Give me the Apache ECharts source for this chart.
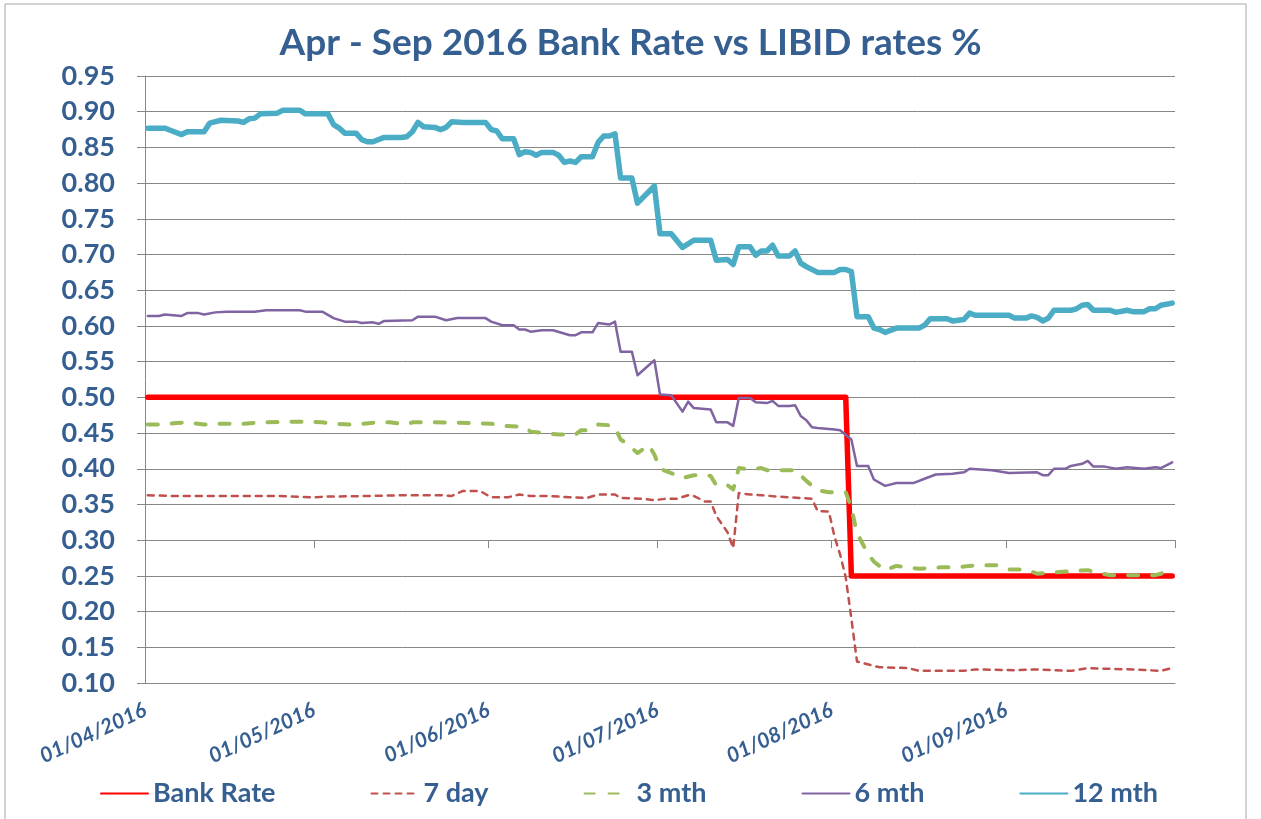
<!DOCTYPE html>
<html>
<head>
<meta charset="utf-8">
<title>Apr - Sep 2016 Bank Rate vs LIBID rates %</title>
<script src="https://cdn.jsdelivr.net/npm/echarts@6/dist/echarts.min.js"></script>
<style>
  html, body { margin: 0; padding: 0; background: #fff; }
  #viewA { width: 1261px; height: 819px; }
</style>
</head>
<body>
<div id="viewA"></div>
<script>
// axis range (daily data, points sit in the middle of each day)
const startDate = "2016-04-01";
const endDate = "2016-10-01";
const yTicks = [0.10, 0.95, 0.05]; // min, max, step

const seriesNames = ["Bank Rate", "7 day", "3 mth", "6 mth", "12 mth"];

const bankRate = [
  ["2016-04-01", 0.50], ["2016-08-03", 0.50], ["2016-08-04", 0.25], ["2016-09-30", 0.25]
];

const sevenDay = [
  ["2016-04-01", 0.363], ["2016-04-05", 0.362], ["2016-04-17", 0.362], ["2016-04-24", 0.362],
  ["2016-04-30", 0.360], ["2016-05-03", 0.361], ["2016-05-11", 0.362], ["2016-05-17", 0.363],
  ["2016-05-23", 0.363], ["2016-05-25", 0.362], ["2016-05-27", 0.369], ["2016-05-30", 0.369],
  ["2016-06-01", 0.360], ["2016-06-04", 0.360], ["2016-06-06", 0.364], ["2016-06-08", 0.362],
  ["2016-06-11", 0.362], ["2016-06-15", 0.360], ["2016-06-18", 0.359], ["2016-06-20", 0.364],
  ["2016-06-23", 0.364], ["2016-06-24", 0.359], ["2016-06-28", 0.358], ["2016-06-30", 0.356],
  ["2016-07-02", 0.358], ["2016-07-04", 0.358], ["2016-07-06", 0.363], ["2016-07-07", 0.362],
  ["2016-07-09", 0.354], ["2016-07-10", 0.354], ["2016-07-11", 0.334], ["2016-07-13", 0.311],
  ["2016-07-14", 0.289], ["2016-07-15", 0.366], ["2016-07-17", 0.364], ["2016-07-19", 0.363],
  ["2016-07-22", 0.361], ["2016-07-28", 0.358], ["2016-07-29", 0.341], ["2016-07-31", 0.340],
  ["2016-08-01", 0.305], ["2016-08-02", 0.280], ["2016-08-03", 0.248], ["2016-08-04", 0.190],
  ["2016-08-05", 0.130], ["2016-08-06", 0.128], ["2016-08-09", 0.122], ["2016-08-14", 0.121],
  ["2016-08-16", 0.117], ["2016-08-24", 0.117], ["2016-08-26", 0.119], ["2016-09-02", 0.118],
  ["2016-09-06", 0.119], ["2016-09-12", 0.117], ["2016-09-15", 0.121], ["2016-09-18", 0.120],
  ["2016-09-23", 0.119], ["2016-09-28", 0.117], ["2016-09-30", 0.121]
];

const threeMonth = [
  ["2016-04-01", 0.462], ["2016-04-03", 0.462], ["2016-04-06", 0.464], ["2016-04-08", 0.465],
  ["2016-04-11", 0.462], ["2016-04-13", 0.463], ["2016-04-18", 0.463], ["2016-04-21", 0.465],
  ["2016-04-27", 0.466], ["2016-04-29", 0.466], ["2016-05-02", 0.465], ["2016-05-04", 0.463],
  ["2016-05-07", 0.462], ["2016-05-09", 0.463], ["2016-05-12", 0.465], ["2016-05-14", 0.465],
  ["2016-05-17", 0.462], ["2016-05-18", 0.465], ["2016-05-22", 0.465], ["2016-05-29", 0.464],
  ["2016-06-01", 0.463], ["2016-06-03", 0.460], ["2016-06-06", 0.459], ["2016-06-07", 0.458],
  ["2016-06-08", 0.452], ["2016-06-13", 0.448], ["2016-06-16", 0.448], ["2016-06-17", 0.454],
  ["2016-06-18", 0.454], ["2016-06-20", 0.462], ["2016-06-22", 0.461], ["2016-06-23", 0.458],
  ["2016-06-24", 0.441], ["2016-06-25", 0.436], ["2016-06-27", 0.422], ["2016-06-29", 0.433],
  ["2016-06-30", 0.420], ["2016-07-01", 0.400], ["2016-07-03", 0.394], ["2016-07-05", 0.387],
  ["2016-07-07", 0.391], ["2016-07-10", 0.390], ["2016-07-11", 0.377], ["2016-07-13", 0.377],
  ["2016-07-14", 0.371], ["2016-07-15", 0.401], ["2016-07-17", 0.399], ["2016-07-19", 0.401],
  ["2016-07-20", 0.398], ["2016-07-25", 0.398], ["2016-07-27", 0.383], ["2016-07-29", 0.370],
  ["2016-07-31", 0.367], ["2016-08-03", 0.367], ["2016-08-04", 0.345], ["2016-08-05", 0.310],
  ["2016-08-06", 0.295], ["2016-08-07", 0.280], ["2016-08-08", 0.270], ["2016-08-10", 0.258],
  ["2016-08-12", 0.264], ["2016-08-16", 0.260], ["2016-08-20", 0.262], ["2016-08-23", 0.262],
  ["2016-08-25", 0.264], ["2016-08-27", 0.265], ["2016-08-30", 0.265], ["2016-09-01", 0.259],
  ["2016-09-04", 0.259], ["2016-09-06", 0.253], ["2016-09-11", 0.256], ["2016-09-15", 0.258],
  ["2016-09-17", 0.254], ["2016-09-19", 0.251], ["2016-09-27", 0.251], ["2016-09-28", 0.253],
  ["2016-09-30", 0.259]
];

const sixMonth = [
  ["2016-04-01", 0.614], ["2016-04-03", 0.614], ["2016-04-04", 0.616], ["2016-04-07", 0.614],
  ["2016-04-08", 0.618], ["2016-04-10", 0.618], ["2016-04-11", 0.616], ["2016-04-13", 0.619],
  ["2016-04-15", 0.620], ["2016-04-20", 0.620], ["2016-04-22", 0.622], ["2016-04-28", 0.622],
  ["2016-04-29", 0.620], ["2016-05-02", 0.620], ["2016-05-04", 0.611], ["2016-05-06", 0.606],
  ["2016-05-08", 0.606], ["2016-05-09", 0.604], ["2016-05-11", 0.605], ["2016-05-12", 0.603],
  ["2016-05-13", 0.607], ["2016-05-18", 0.608], ["2016-05-19", 0.613], ["2016-05-22", 0.613],
  ["2016-05-24", 0.608], ["2016-05-26", 0.611], ["2016-05-31", 0.611], ["2016-06-01", 0.606],
  ["2016-06-03", 0.601], ["2016-06-05", 0.601], ["2016-06-06", 0.595], ["2016-06-07", 0.595],
  ["2016-06-08", 0.592], ["2016-06-10", 0.594], ["2016-06-12", 0.594], ["2016-06-15", 0.587],
  ["2016-06-16", 0.587], ["2016-06-17", 0.591], ["2016-06-19", 0.591], ["2016-06-20", 0.604],
  ["2016-06-22", 0.602], ["2016-06-23", 0.606], ["2016-06-24", 0.564], ["2016-06-26", 0.564],
  ["2016-06-27", 0.531], ["2016-06-30", 0.552], ["2016-07-01", 0.504], ["2016-07-03", 0.503],
  ["2016-07-05", 0.480], ["2016-07-06", 0.494], ["2016-07-07", 0.485], ["2016-07-10", 0.483],
  ["2016-07-11", 0.465], ["2016-07-13", 0.465], ["2016-07-14", 0.460], ["2016-07-15", 0.499],
  ["2016-07-17", 0.499], ["2016-07-18", 0.493], ["2016-07-20", 0.492], ["2016-07-21", 0.495],
  ["2016-07-22", 0.488], ["2016-07-24", 0.488], ["2016-07-25", 0.489], ["2016-07-26", 0.474],
  ["2016-07-27", 0.468], ["2016-07-28", 0.458], ["2016-07-29", 0.457], ["2016-08-01", 0.455],
  ["2016-08-02", 0.454], ["2016-08-04", 0.441], ["2016-08-05", 0.404], ["2016-08-07", 0.404],
  ["2016-08-08", 0.385], ["2016-08-10", 0.376], ["2016-08-12", 0.380], ["2016-08-15", 0.380],
  ["2016-08-17", 0.386], ["2016-08-19", 0.392], ["2016-08-22", 0.393], ["2016-08-24", 0.395],
  ["2016-08-25", 0.400], ["2016-08-29", 0.398], ["2016-09-01", 0.394], ["2016-09-06", 0.395],
  ["2016-09-07", 0.391], ["2016-09-08", 0.391], ["2016-09-09", 0.400], ["2016-09-11", 0.400],
  ["2016-09-12", 0.404], ["2016-09-14", 0.407], ["2016-09-15", 0.411], ["2016-09-16", 0.403],
  ["2016-09-18", 0.403], ["2016-09-20", 0.400], ["2016-09-22", 0.402], ["2016-09-25", 0.400],
  ["2016-09-27", 0.402], ["2016-09-28", 0.401], ["2016-09-30", 0.409]
];

const twelveMonth = [
  ["2016-04-01", 0.877], ["2016-04-04", 0.877], ["2016-04-05", 0.874], ["2016-04-07", 0.868],
  ["2016-04-08", 0.872], ["2016-04-11", 0.872], ["2016-04-12", 0.884], ["2016-04-14", 0.888],
  ["2016-04-17", 0.887], ["2016-04-18", 0.885], ["2016-04-19", 0.890], ["2016-04-20", 0.891],
  ["2016-04-21", 0.897], ["2016-04-24", 0.898], ["2016-04-25", 0.902], ["2016-04-28", 0.902],
  ["2016-04-29", 0.897], ["2016-05-03", 0.897], ["2016-05-04", 0.882], ["2016-05-05", 0.877],
  ["2016-05-06", 0.870], ["2016-05-08", 0.870], ["2016-05-09", 0.861], ["2016-05-10", 0.858],
  ["2016-05-11", 0.858], ["2016-05-13", 0.864], ["2016-05-16", 0.864], ["2016-05-17", 0.865],
  ["2016-05-18", 0.872], ["2016-05-19", 0.885], ["2016-05-20", 0.879], ["2016-05-22", 0.878],
  ["2016-05-23", 0.875], ["2016-05-24", 0.878], ["2016-05-25", 0.886], ["2016-05-27", 0.885],
  ["2016-05-31", 0.885], ["2016-06-01", 0.875], ["2016-06-02", 0.873], ["2016-06-03", 0.862],
  ["2016-06-05", 0.862], ["2016-06-06", 0.840], ["2016-06-07", 0.844], ["2016-06-08", 0.843],
  ["2016-06-09", 0.839], ["2016-06-10", 0.843], ["2016-06-12", 0.843], ["2016-06-13", 0.839],
  ["2016-06-14", 0.829], ["2016-06-15", 0.831], ["2016-06-16", 0.829], ["2016-06-17", 0.837],
  ["2016-06-19", 0.837], ["2016-06-20", 0.857], ["2016-06-21", 0.866], ["2016-06-22", 0.866],
  ["2016-06-23", 0.869], ["2016-06-24", 0.807], ["2016-06-26", 0.807], ["2016-06-27", 0.772],
  ["2016-06-30", 0.796], ["2016-07-01", 0.729], ["2016-07-03", 0.729], ["2016-07-05", 0.710],
  ["2016-07-07", 0.720], ["2016-07-10", 0.720], ["2016-07-11", 0.692], ["2016-07-13", 0.693],
  ["2016-07-14", 0.686], ["2016-07-15", 0.711], ["2016-07-17", 0.711], ["2016-07-18", 0.699],
  ["2016-07-19", 0.705], ["2016-07-20", 0.705], ["2016-07-21", 0.713], ["2016-07-22", 0.698],
  ["2016-07-24", 0.698], ["2016-07-25", 0.705], ["2016-07-26", 0.688], ["2016-07-27", 0.683],
  ["2016-07-29", 0.675], ["2016-08-01", 0.675], ["2016-08-02", 0.679], ["2016-08-03", 0.679],
  ["2016-08-04", 0.676], ["2016-08-05", 0.613], ["2016-08-07", 0.613], ["2016-08-08", 0.597],
  ["2016-08-09", 0.595], ["2016-08-10", 0.591], ["2016-08-12", 0.597], ["2016-08-16", 0.597],
  ["2016-08-17", 0.601], ["2016-08-18", 0.610], ["2016-08-21", 0.610], ["2016-08-22", 0.607],
  ["2016-08-24", 0.609], ["2016-08-25", 0.618], ["2016-08-26", 0.615], ["2016-09-01", 0.615],
  ["2016-09-02", 0.611], ["2016-09-04", 0.611], ["2016-09-05", 0.614], ["2016-09-06", 0.612],
  ["2016-09-07", 0.607], ["2016-09-08", 0.611], ["2016-09-09", 0.622], ["2016-09-12", 0.622],
  ["2016-09-13", 0.624], ["2016-09-14", 0.629], ["2016-09-15", 0.630], ["2016-09-16", 0.622],
  ["2016-09-19", 0.622], ["2016-09-20", 0.619], ["2016-09-22", 0.622], ["2016-09-23", 0.620],
  ["2016-09-25", 0.620], ["2016-09-26", 0.624], ["2016-09-27", 0.624], ["2016-09-28", 0.629],
  ["2016-09-30", 0.632]
];

const textBlue = "#365F91";
const gridGrey = "#878787";
const font = "Lato";

// each daily value is plotted at midday, like a date axis with points between ticks
function midday(points) {
  return points.map(p => [new Date(p[0] + "T12:00:00").getTime(), p[1]]);
}

function lineSeries(name, points, color, width, dash) {
  return {
    name: name,
    type: "line",
    data: midday(points),
    symbol: "none",
    smooth: false,
    lineStyle: { color: color, width: width, type: dash || "solid", cap: "round", join: "round" },
    itemStyle: { color: color },
    emphasis: { disabled: true }
  };
}

const grid = { left: 145, right: 86, top: 76, bottom: 136 };
const plotHeight = 819 - grid.top - grid.bottom;
// second (label-less) date axis whose ticks hang from the 0.30 line
const crossOffset = -plotHeight * (0.30 - yTicks[0]) / (yTicks[1] - yTicks[0]);

const DAY = 24 * 3600 * 1000;

function timeAxis(extra) {
  return Object.assign({
    type: "time",
    position: "bottom",
    min: new Date(startDate + "T00:00:00").getTime(),
    max: new Date(endDate + "T00:00:00").getTime(),
    splitNumber: 6,
    minInterval: 28 * DAY,
    maxInterval: 31 * DAY,
    splitLine: { show: false }
  }, extra);
}

let option = {
  animation: false,
  backgroundColor: "#ffffff",
  title: {
    text: "Apr - Sep 2016 Bank Rate vs LIBID rates %",
    left: "center",
    top: 20,
    textStyle: { fontFamily: font, fontWeight: "bold", fontSize: 37, color: textBlue }
  },
  legend: {
    data: seriesNames,
    left: 100,
    top: 780,
    padding: 0,
    itemWidth: 47,
    itemHeight: 14,
    itemGap: 95,
    itemStyle: { opacity: 0 },
    textStyle: { fontFamily: font, fontWeight: "bold", fontSize: 27, color: textBlue }
  },
  grid: grid,
  xAxis: [
    timeAxis({
      axisLine: { show: true, lineStyle: { color: gridGrey, width: 1 } },
      axisTick: { show: false },
      axisLabel: {
        formatter: "{dd}/{MM}/{yyyy}",
        rotate: 25,
        margin: 26,
        showMaxLabel: false,
        color: textBlue,
        fontFamily: font,
        fontWeight: "bold",
        fontStyle: "italic",
        fontSize: 21
      }
    }),
    timeAxis({
      offset: crossOffset,
      axisLine: { show: false },
      axisTick: { show: true, length: 8, lineStyle: { color: gridGrey, width: 1 } },
      axisLabel: { show: false }
    })
  ],
  yAxis: {
    type: "value",
    min: yTicks[0],
    max: yTicks[1],
    interval: yTicks[2],
    axisLine: { show: true, lineStyle: { color: gridGrey, width: 1 } },
    axisTick: { show: true, length: 8, lineStyle: { color: gridGrey } },
    splitLine: { lineStyle: { color: gridGrey, width: 1 } },
    axisLabel: {
      formatter: v => v.toFixed(2),
      margin: 30,
      color: textBlue,
      fontFamily: font,
      fontWeight: "bold",
      fontSize: 27
    }
  },
  graphic: [{
    type: "rect",
    shape: { x: 5, y: 4, width: 1241, height: 830 },
    style: { fill: null, stroke: "#a6a6a6", lineWidth: 1 },
    silent: true
  }],
  series: [
    lineSeries(seriesNames[0], bankRate, "#FF0000", 5.5),
    lineSeries(seriesNames[1], sevenDay, "#C0504D", 2.5, [6, 6]),
    lineSeries(seriesNames[2], threeMonth, "#9BBB59", 4, [10, 14]),
    lineSeries(seriesNames[3], sixMonth, "#8064A2", 2.5),
    lineSeries(seriesNames[4], twelveMonth, "#4BACC6", 5.5)
  ]
};

let chart = echarts.init(document.getElementById("viewA"), null, { renderer: "canvas" });
chart.setOption(option);
</script>
</body>
</html>
